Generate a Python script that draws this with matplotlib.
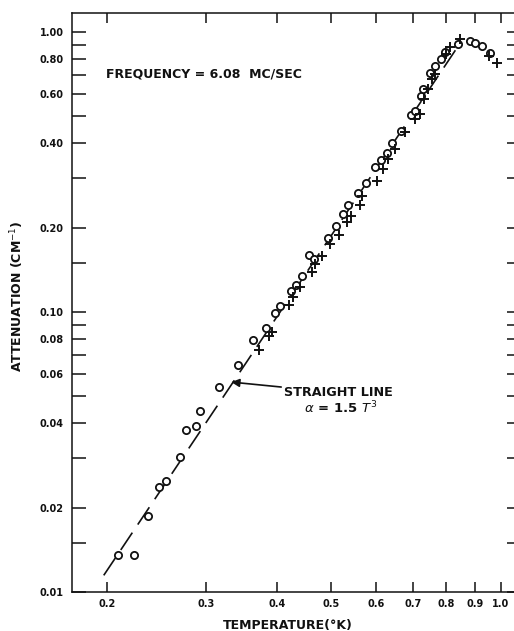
import numpy as np
import matplotlib
matplotlib.use("Agg")
import matplotlib.pyplot as plt
from matplotlib.ticker import FixedLocator, NullLocator

plt.rcParams["font.family"] = ["DejaVu Sans"]
plt.rcParams["lines.scale_dashes"] = False

# circles (o) - temperature (K), attenuation (cm^-1)
circle_T = [0.209, 0.2226, 0.236, 0.247, 0.2546, 0.269, 0.276, 0.287, 0.292,
            0.316, 0.3416, 0.3626, 0.3834, 0.397, 0.406, 0.4236, 0.433, 0.444,
            0.456, 0.4656, 0.494, 0.509, 0.525, 0.535, 0.557, 0.576, 0.598,
            0.612, 0.628, 0.642, 0.665, 0.692, 0.704, 0.7216, 0.727, 0.748,
            0.764, 0.785, 0.796, 0.840, 0.882, 0.900, 0.928, 0.956]
circle_a = [0.01355, 0.01355, 0.01863, 0.02366, 0.02497, 0.03028, 0.0379, 0.0391,
            0.04418, 0.0538, 0.0647, 0.0792, 0.0874, 0.0992, 0.1053, 0.1191,
            0.1252, 0.1341, 0.1602, 0.1546, 0.1842, 0.2023, 0.2239, 0.241, 0.265,
            0.288, 0.329, 0.350, 0.370, 0.401, 0.442, 0.507, 0.524, 0.589, 0.626,
            0.714, 0.758, 0.801, 0.846, 0.906, 0.926, 0.911, 0.894, 0.841]

# crosses (+)
cross_T = [0.372, 0.387, 0.393, 0.420, 0.428, 0.4396, 0.4626, 0.4686, 0.482,
           0.497, 0.5157, 0.533, 0.541, 0.563, 0.567, 0.602, 0.618, 0.631, 0.649,
           0.676, 0.704, 0.718, 0.730, 0.743, 0.754, 0.764, 0.800, 0.812, 0.846,
           0.955, 0.985]
cross_a = [0.0733, 0.0819, 0.0850, 0.1059, 0.1129, 0.1225, 0.1393, 0.1484, 0.1589,
           0.175, 0.1884, 0.209, 0.2197, 0.241, 0.260, 0.294, 0.324, 0.352, 0.382,
           0.438, 0.489, 0.509, 0.577, 0.626, 0.679, 0.708, 0.835, 0.882, 0.944,
           0.820, 0.772]

# straight line alpha = 1.5 T^3
line_T = np.array([0.197, 0.84])
line_a = 1.5 * line_T ** 3

x_ticks = [0.2, 0.3, 0.4, 0.5, 0.6, 0.7, 0.8, 0.9, 1.0]
x_labels = ["0.2", "0.3", "0.4", "0.5", "0.6", "0.7", "0.8", "0.9", "1.0"]
y_major = [0.01, 0.02, 0.04, 0.06, 0.08, 0.10, 0.20, 0.40, 0.60, 0.80, 1.00]
y_labels = ["0.01", "0.02", "0.04", "0.06", "0.08", "0.10", "0.20", "0.40",
            "0.60", "0.80", "1.00"]
y_minor = [0.015, 0.03, 0.05, 0.07, 0.09, 0.15, 0.3, 0.5, 0.7, 0.9]

ink = "#111111"

fig = plt.figure(figsize=(5.14, 6.31), dpi=100)
W, H = 514.0, 631.0
ax = fig.add_axes([72 / W, 39 / H, 449 / W, 579.5 / H])

ax.set_xscale("log")
ax.set_yscale("log")
ax.set_xlim(0.173, 1.087)
ax.set_ylim(0.01, 1.174)

ax.plot(line_T, line_a, color=ink, lw=1.2, dashes=(15, 7))
ax.plot(circle_T, circle_a, "o", ms=5.2, mfc="white", mec=ink, mew=1.3,
        linestyle="none")
ax.plot(cross_T, cross_a, "+", ms=7, mec=ink, mew=1.4, linestyle="none")

ax.xaxis.set_major_locator(FixedLocator(x_ticks))
ax.xaxis.set_minor_locator(NullLocator())
ax.set_xticklabels(x_labels)
ax.yaxis.set_major_locator(FixedLocator(y_major))
ax.yaxis.set_minor_locator(FixedLocator(y_minor))
ax.set_yticklabels(y_labels)

ax.tick_params(axis="x", which="both", direction="in", top=True, bottom=True,
               length=7.5, width=1.1, color=ink, labelsize=7, pad=5)
ax.tick_params(axis="y", which="both", direction="in", left=True, right=True,
               length=10, width=1.1, color=ink, labelsize=7, pad=6)
ax.tick_params(axis="y", which="minor", labelleft=False)
for lab in ax.get_xticklabels() + ax.get_yticklabels():
    lab.set_fontweight("bold")
    lab.set_color(ink)

for side in ["left", "bottom", "top"]:
    ax.spines[side].set_linewidth(1.1)
    ax.spines[side].set_color(ink)
ax.spines["right"].set_visible(False)

ax.text(0.199, 0.708, "FREQUENCY = 6.08  MC/SEC", fontsize=9,
        fontweight="bold", color=ink, va="center", ha="left")

ax.annotate("STRAIGHT LINE", xy=(0.332, 0.0562), xytext=(0.412, 0.0515),
            fontsize=9.2, fontweight="bold", color=ink, va="center", ha="left",
            arrowprops=dict(arrowstyle="-|>", color=ink, lw=1.2,
                            mutation_scale=12, shrinkA=0, shrinkB=0))
ax.text(0.519, 0.0434, r"$\alpha$ = 1.5 $T^3$", fontsize=9.5,
        fontweight="bold", color=ink, va="baseline", ha="center")

fig.text(288 / W, 1 - 625 / H, "TEMPERATURE(°K)", fontsize=9, fontweight="bold",
         color=ink, ha="center", va="center")
fig.text(17 / W, 1 - 296 / H, "ATTENUATION (CM$^{-1}$)", fontsize=9,
         fontweight="bold", color=ink, ha="center", va="center", rotation=90)

fig.savefig("out.png", dpi=100)
